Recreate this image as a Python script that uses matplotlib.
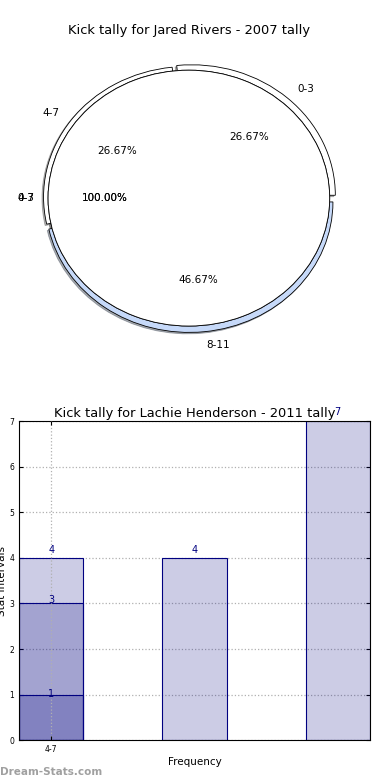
import matplotlib
matplotlib.use('Agg')
import matplotlib.pyplot as plt

# top chart: kick tally pie (three slices plus two single-slice pies drawn over them)
pie_labels = ['0-3', '4-7', '8-11']
pie_values = [4, 4, 7]
pie_colors = ['white', 'white', '#c6d9f9']
single_labels = ['0-3', '4-7']

# bottom chart: overlapping bars
bar_pos = [0, 0, 0, 1, 2]
bar_vals = [4, 3, 1, 4, 7]
tick_pos = [0]
tick_labels = ['4-7']

fig = plt.figure(figsize=(3.9, 7.8), dpi=100)

shadow = {'ox': -0.008, 'oy': -0.008, 'shade': 0.6}

# pie, aspect left automatic so it comes out as an ellipse
ax1 = fig.add_axes([0.033, 0.541, 0.9026, 0.410])
ax1.pie(pie_values, labels=pie_labels, colors=pie_colors, explode=(0.03, 0.015, 0.03),
        radius=1.02, autopct='%1.2f%%', shadow=shadow,
        wedgeprops={'edgecolor': 'black', 'linewidth': 0.6},
        textprops={'fontsize': 7.5})
for lab in single_labels:
    ax1.pie([1], labels=[lab], colors=['white'], autopct='%1.2f%%', shadow=shadow,
            wedgeprops={'edgecolor': 'black', 'linewidth': 0.6},
            textprops={'fontsize': 7.5})
ax1.set_aspect('auto')
ax1.set_xlim(-1.25, 1.25)
ax1.set_ylim(-1.25, 1.25)
ax1.axis('off')
ax1.set_title('Kick tally for Jared Rivers - 2007 tally', fontsize=9.35, pad=3)

# bars
ax2 = fig.add_axes([0.0487, 0.051, 0.9, 0.409])
ax2.bar(bar_pos, bar_vals, width=0.45, color=(0, 0, 0.5, 0.2),
        edgecolor='navy', linewidth=0.8, zorder=2)
# label offsets above each bar top (as drawn in the original)
lab_off = [0.17, 0.07, 0.01, 0.17, 0.2]
for x, v, o in zip(bar_pos, bar_vals, lab_off):
    ax2.text(x, v + o, str(v), ha='center', va='center', color='navy', fontsize=7, zorder=4)
ax2.set_xlim(-0.225, 2.225)
ax2.set_ylim(0, 7)
ax2.set_xticks(tick_pos)
ax2.set_xticklabels(tick_labels)
ax2.set_yticks(range(0, 8))
ax2.tick_params(labelsize=5.5, direction='in', length=3, right=True, top=True)
ax2.grid(True, linestyle=':', color='#b0b0b0', linewidth=0.9)
# horizontal grid under the bars, vertical grid over them
ax2.yaxis.set_zorder(0.5)
ax2.xaxis.set_zorder(3)
ax2.set_xlabel('Frequency', fontsize=7.5, labelpad=2)
ax2.set_ylabel('Stat Intervals', fontsize=7.5)
ax2.yaxis.set_label_coords(-0.035, 0.5)
ax2.set_title('Kick tally for Lachie Henderson - 2011 tally', fontsize=9.35, pad=3)

fig.text(0.0, 0.004, 'Dream-Stats.com', fontsize=7.5, color='#a0a0a0', fontweight='bold',
         ha='left', va='bottom')

fig.savefig('out.png', dpi=100)
